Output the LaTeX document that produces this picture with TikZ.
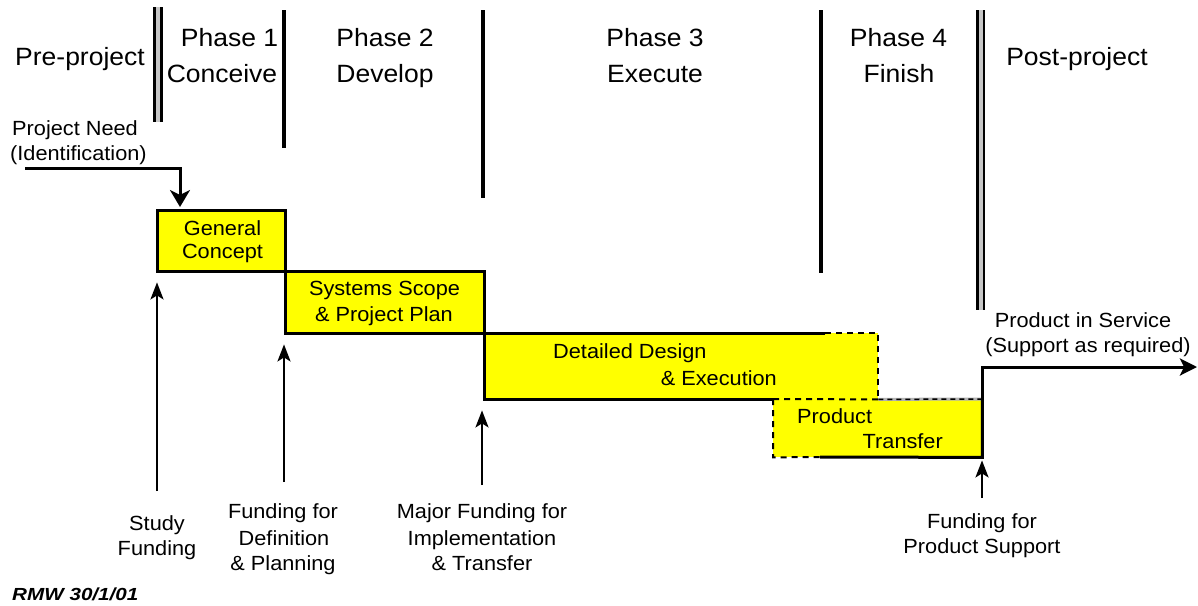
\documentclass[tikz,border=0pt]{standalone}
\usepackage{fontspec}
\setmainfont{Liberation Sans}[FakeStretch=1.06]
\newfontfamily\rmwfont{Liberation Sans}[FakeStretch=1.18]
\usetikzlibrary{arrows.meta}
\definecolor{boxyellow}{RGB}{255,255,0}
\begin{document}
\begin{tikzpicture}[x=1pt,y=-1pt,
  head/.style={font=\fontsize{25}{30}\selectfont, inner sep=0pt, anchor=base},
  lbl/.style={font=\fontsize{20.5}{24}\selectfont, inner sep=0pt, anchor=base},
  divider/.style={line width=3.5pt},
  dbl/.style={line width=3pt},
  yellowbox/.style={fill=boxyellow, draw=none, inner sep=0pt, anchor=north west},
  edge/.style={line width=3pt},
  dashedge/.style={line width=2pt, dash pattern=on 6pt off 5pt},
  fund/.style={line width=2.5pt, -{Stealth[length=17pt,width=13pt,inset=4pt]}},
  needarrow/.style={line width=3pt, -{Stealth[length=17pt,width=20pt,inset=5pt]}},
  svcarrow/.style={line width=3pt, -{Stealth[length=17pt,width=17pt,inset=4pt]}}
]
\useasboundingbox (0,0) rectangle (1198,605);
\fill[white] (0,0) rectangle (1198,605);

% ---- phase dividers ----
\draw[line width=9pt, gray!45] (157.5,7) -- (157.5,122);
\draw[dbl] (154,7) -- (154,122);
\draw[dbl] (161,7) -- (161,122);
\draw[divider] (284,10) -- (284,148);
\draw[divider] (483,10) -- (483,198);
\draw[divider] (821,10) -- (821,273);
\draw[line width=8pt, gray!45] (980.5,10) -- (980.5,310);
\draw[dbl] (977.5,10) -- (977.5,310);
\draw[dbl, line width=2.5pt] (984,10) -- (984,310);

% ---- headings ----
\node[head] (pre) at (80,65) {Pre-project};
\node[head] (ph1) at (229.5,46) {Phase 1};
\node[head] (ph1b) at (222,82) {Conceive};
\node[head] (ph2) at (385,46) {Phase 2};
\node[head] (ph2b) at (385,82) {Develop};
\node[head] (ph3) at (655,46) {Phase 3};
\node[head] (ph3b) at (655,82) {Execute};
\node[head] (ph4) at (898.5,46) {Phase 4};
\node[head] (ph4b) at (899,82) {Finish};
\node[head] (post) at (1077,65) {Post-project};

% ---- boxes ----
\node[yellowbox, minimum width=128pt, minimum height=61pt] (gc) at (157,210) {};
\node[yellowbox, minimum width=199pt, minimum height=62pt] (ss) at (285,271) {};
\node[yellowbox, minimum width=394pt, minimum height=66pt] (dd) at (484,333) {};
\node[yellowbox, minimum width=209pt, minimum height=58pt] (pt) at (773,399) {};

\draw[edge] (gc.north west) rectangle (gc.south east);
\draw[edge] (ss.north west) rectangle (ss.south east);

\coordinate (ddTopBreak) at (825,333);
\coordinate (ptBotBreak) at (820,457);
\coordinate (svcEnd) at (1197,367);
\draw[edge] (ddTopBreak) -- (dd.north west) -- (dd.south west) -- (dd.south west -| pt.west);
\draw[dashedge] (ddTopBreak) -- (dd.north east) -- (dd.south east);
\draw[dashedge] (pt.north west) -- (dd.south east);
\draw[line width=3pt, gray!60] (dd.south east) -- (pt.north east);
\draw[line width=1.5pt, dash pattern=on 5pt off 4pt] (dd.south east) -- (pt.north east);
\draw[dashedge] (pt.north west) -- (pt.south west) -- (ptBotBreak);
\draw[edge] (ptBotBreak) -- (pt.south east) -- (pt.north east);
\draw[svcarrow] (pt.north east) |- (svcEnd);

% ---- box texts ----
\node[lbl] (gc1) at (222.5,235) {General};
\node[lbl] (gc2) at (222.5,258) {Concept};
\node[lbl] (ss1) at (384.5,295) {Systems Scope};
\node[lbl] (ss2) at (384,321) {\& Project Plan};
\node[lbl, anchor=base west] (dd1) at (553,358) {Detailed Design};
\node[lbl, anchor=base east] (dd2) at (777,385) {\& Execution};
\node[lbl, anchor=base west] (pt1) at (797,423) {Product};
\node[lbl, anchor=base east] (pt2) at (943,448) {Transfer};

% ---- project need ----
\node[lbl, anchor=base west] (need1) at (12,135) {Project Need};
\node[lbl, anchor=base west] (need2) at (10,160) {(Identification)};
\coordinate (needStart) at (25,168);
\coordinate (needTip) at (180,210);
\draw[needarrow, shorten >=3pt] (needStart) -| (needTip);

% ---- product in service ----
\node[lbl] (svc1) at (1083,327) {Product in Service};
\node[lbl] (svc2) at (1088,352) {(Support as required)};

% ---- funding arrows ----
\coordinate (sfBot) at (157,491);
\coordinate (dfBot) at (284,482);
\coordinate (mfBot) at (482,485);
\coordinate (psBot) at (982,498);
\draw[fund, shorten >=11pt] (sfBot) -- (sfBot |- gc.south);
\draw[fund, shorten >=11pt] (dfBot) -- (dfBot |- ss.south);
\draw[fund, shorten >=11pt] (mfBot) -- (mfBot |- dd.south);
\draw[fund, shorten >=3pt] (psBot) -- (psBot |- pt.south);

\node[lbl] (sf1) at (157,530) {Study};
\node[lbl] (sf2) at (157,555) {Funding};
\node[lbl] (df1) at (283,518) {Funding for};
\node[lbl] (df2) at (284,545) {Definition};
\node[lbl] (df3) at (283,570) {\& Planning};
\node[lbl] (mf1) at (482,518) {Major Funding for};
\node[lbl] (mf2) at (482,545) {Implementation};
\node[lbl] (mf3) at (482,570) {\& Transfer};
\node[lbl] (ps1) at (982,528) {Funding for};
\node[lbl] (ps2) at (982,553) {Product Support};

\node[font=\rmwfont\fontsize{17.5}{20}\selectfont\bfseries\itshape, inner sep=0pt, anchor=base west] (rmw) at (12,600) {RMW 30/1/01};
\end{tikzpicture}
\end{document}
